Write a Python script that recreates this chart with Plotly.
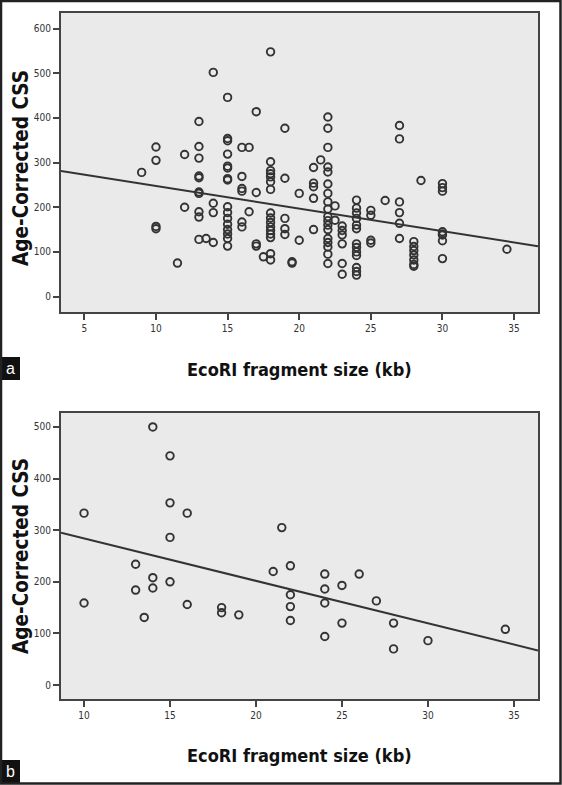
import plotly.graph_objects as go

# ---------------- data ----------------
# Panel a: EcoRI fragment size (kb) vs Age-Corrected CSS
a_x = ([9] + [10] * 4 + [11.5] + [12] * 2 + [13] * 10 + [13.5] + [14] * 4 + [15] * 16
       + [16] * 6 + [16.5] * 2 + [17] * 4 + [17.5] + [18] * 16 + [19] * 5 + [19.5] * 2
       + [20] * 2 + [21] * 5 + [21.5] + [22] * 18 + [22.5] * 2 + [23] * 6 + [24] * 13
       + [25] * 4 + [26] + [27] * 6 + [28] * 7 + [28.5] + [30] * 8 + [34.5])
a_y = ([278]
       + [335, 305, 157, 152]
       + [75]
       + [318, 200]
       + [392, 336, 310, 270, 266, 234, 231, 190, 178, 128]
       + [130]
       + [502, 209, 188, 121]
       + [446, 354, 349, 319, 292, 288, 264, 261, 201, 188, 175, 162, 150, 140, 130, 113]
       + [334, 269, 242, 236, 167, 156]
       + [334, 190]
       + [414, 233, 118, 113]
       + [89]
       + [548, 302, 282, 275, 268, 257, 240, 187, 176, 166, 156, 148, 140, 132, 96, 82]
       + [377, 265, 175, 152, 139]
       + [78, 75]
       + [231, 126]
       + [289, 254, 246, 220, 150]
       + [306]
       + [402, 377, 334, 290, 279, 252, 231, 212, 196, 179, 170, 160, 150, 130, 121, 111, 95, 74]
       + [203, 171]
       + [158, 148, 138, 118, 74, 50]
       + [216, 198, 187, 175, 160, 152, 118, 110, 100, 92, 65, 56, 48]
       + [193, 182, 126, 120]
       + [215]
       + [383, 353, 212, 188, 164, 130]
       + [123, 112, 103, 93, 82, 72, 68]
       + [260]
       + [253, 244, 236, 145, 140, 125, 85, 138]
       + [106])

# Panel b
b_x = ([10, 10, 13, 13, 13.5, 14, 14, 14, 15, 15, 15, 15, 16, 16, 18, 18, 19, 21, 21.5,
        22, 22, 22, 22, 24, 24, 24, 24, 25, 25, 26, 27, 28, 28, 30, 34.5])
b_y = ([333, 159, 234, 184, 131, 500, 208, 188, 444, 353, 286, 200, 333, 156, 150, 140, 136,
        220, 305, 231, 175, 152, 125, 215, 186, 159, 94, 193, 120, 215, 163, 120, 70, 86, 108])

# Fit lines (intercept, slope)
fit_a = (298.0, -5.05)
fit_b = (366.2, -8.22)

# axis ranges / ticks
a_xrange = [3.37, 36.67]
a_yrange = [-34.6, 635]
b_xrange = [8.66, 36.4]
b_yrange = [-27, 527]
a_xticks = [5, 10, 15, 20, 25, 30, 35]
a_yticks = [0, 100, 200, 300, 400, 500, 600]
b_xticks = [10, 15, 20, 25, 30, 35]
b_yticks = [0, 100, 200, 300, 400, 500]

x_title = "EcoRI fragment size (kb)"
y_title = "Age-Corrected CSS"

# ---------------- figure ----------------
W, H = 562, 785
ink = "#333333"
marker = dict(symbol="circle-open", size=7.5, color=ink, line=dict(width=1.9, color=ink))

fig = go.Figure()
fig.add_trace(go.Scatter(x=a_x, y=a_y, mode="markers", marker=marker,
                         xaxis="x", yaxis="y", showlegend=False, hoverinfo="x+y"))
fig.add_trace(go.Scatter(x=a_xrange, y=[fit_a[0] + fit_a[1] * v for v in a_xrange],
                         mode="lines", line=dict(color=ink, width=2),
                         xaxis="x", yaxis="y", showlegend=False))
fig.add_trace(go.Scatter(x=b_x, y=b_y, mode="markers", marker=marker,
                         xaxis="x2", yaxis="y2", showlegend=False, hoverinfo="x+y"))
fig.add_trace(go.Scatter(x=b_xrange, y=[fit_b[0] + fit_b[1] * v for v in b_xrange],
                         mode="lines", line=dict(color=ink, width=2),
                         xaxis="x2", yaxis="y2", showlegend=False))

narrow = "DejaVu Sans Condensed, Liberation Sans Narrow, Arial Narrow, Liberation Sans, sans-serif"
tickfont = dict(family=narrow, size=10, color="#333333")
axis_common = dict(showgrid=False, zeroline=False, showline=True, mirror=True,
                   linecolor="#444444", linewidth=2, ticks="outside", ticklen=6,
                   tickwidth=1.5, tickcolor="#444444", tickfont=tickfont)

xd = [61 / W, 538 / W]
fig.update_layout(
    width=W, height=H,
    margin=dict(l=0, r=0, t=0, b=0),
    paper_bgcolor="white",
    plot_bgcolor="#eaeaea",
    xaxis=dict(domain=xd, range=a_xrange, tickvals=a_xticks, anchor="y", **axis_common),
    yaxis=dict(domain=[1 - 312 / H, 1 - 13 / H], range=a_yrange, tickvals=a_yticks,
               anchor="x", **axis_common),
    xaxis2=dict(domain=xd, range=b_xrange, tickvals=b_xticks, anchor="y2", **axis_common),
    yaxis2=dict(domain=[1 - 699 / H, 1 - 413 / H], range=b_yrange, tickvals=b_yticks,
                anchor="x2", **axis_common),
)

xtitlefont = dict(family=narrow, size=18, color="#111111")
ytitlefont = dict(family=narrow, size=20.5, color="#111111")
xc = (61 + 538) / 2 / W
for ycen in (369, 755):
    fig.add_annotation(text="<b>%s</b>" % x_title, xref="paper", yref="paper",
                       x=xc, y=1 - ycen / H, showarrow=False, font=xtitlefont,
                       xanchor="center", yanchor="middle")
for ycen in (168, 556):
    fig.add_annotation(text="<b>%s</b>" % y_title, xref="paper", yref="paper",
                       x=21 / W, y=1 - ycen / H, showarrow=False, font=ytitlefont,
                       textangle=-90, xanchor="center", yanchor="middle")

# panel labels
labfont = dict(family="Liberation Sans, Arial, sans-serif", size=16, color="white")
for lab, y0, y1 in (("a", 357, 380), ("b", 760, 783)):
    fig.add_shape(type="rect", xref="paper", yref="paper",
                  x0=0, x1=20 / W, y0=1 - y1 / H, y1=1 - y0 / H,
                  fillcolor="#111111", line=dict(width=0))
    fig.add_annotation(text=lab, xref="paper", yref="paper", x=10 / W,
                       y=1 - (y0 + y1) / 2 / H, showarrow=False, font=labfont,
                       xanchor="center", yanchor="middle")

# outer frame
fig.add_shape(type="rect", xref="paper", yref="paper", x0=1 / W, x1=1 - 1.5 / W,
              y0=1.5 / H, y1=1 - 1 / H, line=dict(color="#222222", width=2.5))

fig.write_html("out.html", config={"displayModeBar": False},
               post_script="document.body.style.margin='0';document.body.style.overflow='hidden';")
